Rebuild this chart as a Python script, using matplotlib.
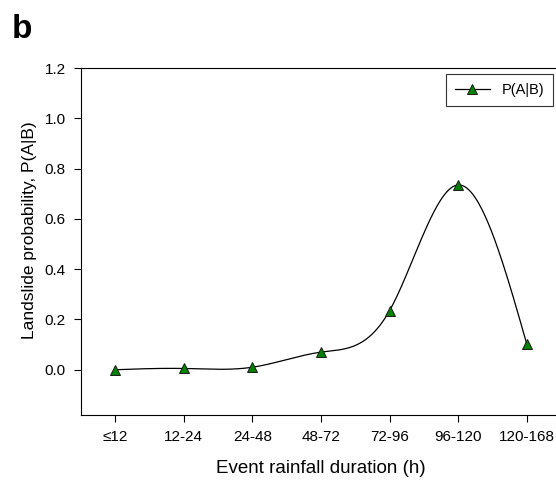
import numpy as np
import matplotlib.pyplot as plt

plt.rcParams['font.family'] = ['Liberation Sans', 'DejaVu Sans']

categories = ['≤12', '12-24', '24-48', '48-72', '72-96', '96-120', '120-168']
prob = [0.0, 0.005, 0.01, 0.07, 0.235, 0.735, 0.103]
yticks = [0.0, 0.2, 0.4, 0.6, 0.8, 1.0, 1.2]


def natural_spline(x, y, xs):
    # natural cubic spline, no scipy available
    x = np.asarray(x, float); y = np.asarray(y, float)
    n = len(x)
    h = np.diff(x)
    A = np.zeros((n, n)); b = np.zeros(n)
    A[0, 0] = A[-1, -1] = 1
    for i in range(1, n - 1):
        A[i, i - 1] = h[i - 1]
        A[i, i] = 2 * (h[i - 1] + h[i])
        A[i, i + 1] = h[i]
        b[i] = 3 * ((y[i + 1] - y[i]) / h[i] - (y[i] - y[i - 1]) / h[i - 1])
    c = np.linalg.solve(A, b)
    out = np.empty_like(xs)
    for k, t in enumerate(xs):
        i = min(max(np.searchsorted(x, t) - 1, 0), n - 2)
        d = t - x[i]
        bi = (y[i + 1] - y[i]) / h[i] - h[i] * (2 * c[i] + c[i + 1]) / 3
        di = (c[i + 1] - c[i]) / (3 * h[i])
        out[k] = y[i] + bi * d + c[i] * d ** 2 + di * d ** 3
    return out


xpos = np.arange(len(categories))
xs = np.linspace(0, len(categories) - 1, 400)
ys = natural_spline(xpos, prob, xs)

fig = plt.figure(figsize=(5.56, 4.82), dpi=100)
ax = fig.add_axes([81 / 556, 1 - 415 / 482, (561 - 81) / 556, (415 - 68) / 482])

mk = dict(marker='^', ms=7, mfc='#008000', mec='#1a1a1a', mew=0.7)
ax.plot(xs, ys, color='black', lw=0.9, zorder=2)
ax.plot(xpos, prob, linestyle='none', zorder=3, **mk)
# legend proxy: line + marker
ax.plot([], [], color='black', lw=0.9, label='P(A|B)', **mk)

ax.set_xlim(-0.5, 6.5)
ax.set_ylim(-0.18, 1.2)
ax.set_xticks(xpos)
ax.set_xticklabels(categories)
ax.set_yticks(yticks)
ax.set_yticklabels([f'{v:.1f}' for v in yticks])
ax.tick_params(direction='out', length=5, width=0.8, labelsize=11, pad=6)
for s in ax.spines.values():
    s.set_linewidth(0.8)
ax.spines['right'].set_visible(False)

ax.set_xlabel('Event rainfall duration (h)', fontsize=13.5, labelpad=11)
ax.set_ylabel('Landslide probability, P(A|B)', fontsize=12.5)
ax.yaxis.set_label_coords(-0.092, 0.533)

leg = ax.legend(loc='upper right', bbox_to_anchor=(553 / 556, 1 - 74 / 482),
                bbox_transform=fig.transFigure, fontsize=10.5, frameon=True,
                fancybox=False, edgecolor='black', handlelength=2.4,
                borderpad=0.6, handletextpad=0.8, borderaxespad=0)
leg.get_frame().set_linewidth(0.8)

fig.text(12 / 556, 1 - 38 / 482, 'b', fontsize=24, fontweight='bold')

fig.savefig('out.png', dpi=100)
